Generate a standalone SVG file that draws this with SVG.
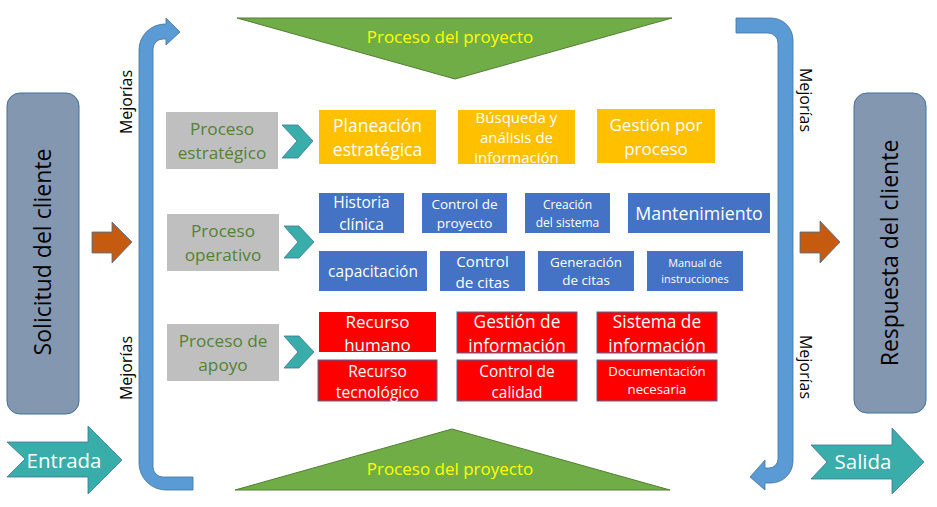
<svg xmlns="http://www.w3.org/2000/svg" width="937" height="507" viewBox="0 0 937 507">
<style>
text{font-family:"Open Sans","Noto Sans","Liberation Sans",sans-serif;text-anchor:middle}
.client{fill:#8497b0;stroke:#41719c;stroke-width:1}
.client-t{font-size:23px;fill:#000}
.mej{font-size:16px;fill:#000}
.blue-arrow{fill:#5b9bd5;stroke:#41719c;stroke-width:0.8}
.orange-arrow{fill:#c55a11;stroke:#41719c;stroke-width:0.8}
.teal{fill:#38ada9;stroke:#41719c;stroke-width:0.8}
.tri{fill:#70ad47;stroke:#507e32;stroke-width:1}
.tri-t{font-size:17px;fill:#ffff00}
.proc{fill:#bfbfbf}
.proc-t{font-size:17.2px;fill:#548235}
.yel{fill:#ffc000}
.blu{fill:#4472c4}
.red{fill:#ff0000}
.redb{fill:#ff0000;stroke:#41719c;stroke-width:1}
.wt{fill:#ffffff}
.io-t{font-size:20.5px;fill:#ffffff}
</style>
<defs>
<clipPath id="clipBusq"><rect x="458" y="110" width="117" height="54"/></clipPath>
</defs>

<g id="solicitud">
<rect class="client" x="7" y="93" width="72" height="321" rx="13"/>
<text class="client-t" transform="translate(43,252) rotate(-90)" dy="0.35em">Solicitud del cliente</text>
</g>
<g id="respuesta">
<rect class="client" x="854" y="93" width="72" height="320" rx="13"/>
<text class="client-t" transform="translate(890,253) rotate(-90)" dy="0.35em">Respuesta del cliente</text>
</g>

<g id="mejoras-izq">
<path class="blue-arrow" d="M193,490 L166,490 A27,27 0 0 1 139,463 L139,50 A26,26 0 0 1 165,24 L166,24 L166,18 L180,32 L166,45 L166,39 L163,39 A10,10 0 0 0 153,49 L153,467 A10,10 0 0 0 163,477 L193,477 Z"/>
<text class="mej" transform="translate(126,102) rotate(-90)" dy="0.35em">Mejorías</text>
<text class="mej" transform="translate(126,368) rotate(-90)" dy="0.35em">Mejorías</text>
</g>
<g id="mejoras-der">
<path class="blue-arrow" d="M736,18 L771,18 A22,22 0 0 1 793,40 L793,461 A22,22 0 0 1 771,483 L765,483 L765,490 L750,477 L765,460 L765,468 L769,468 A9,9 0 0 0 778,459 L778,43 A10,10 0 0 0 768,33 L736,33 Z"/>
<text class="mej" transform="translate(806,100) rotate(90)" dy="0.35em">Mejorías</text>
<text class="mej" transform="translate(806,367) rotate(90)" dy="0.35em">Mejorías</text>
</g>

<g id="entrada">
<path class="teal" d="M7,442 L88,442 L88,426 L122,460 L88,494 L88,477 L7,477 L25,459 Z"/>
<text class="io-t" x="64" y="468">Entrada</text>
</g>
<g id="salida">
<path class="teal" d="M811,445 L892,445 L892,428 L924,462 L892,494 L892,479 L811,479 L827,462 Z"/>
<text class="io-t" x="863" y="469">Salida</text>
</g>

<g id="proyecto-sup">
<path class="tri" d="M237,18 L672,18 L455,79 Z"/>
<text class="tri-t" x="450" y="43">Proceso del proyecto</text>
</g>
<g id="proyecto-inf">
<path class="tri" d="M235,490 L452,429 L670,490 Z"/>
<text class="tri-t" x="450" y="475">Proceso del proyecto</text>
</g>

<g id="proceso-estrategico">
<rect class="proc" x="166" y="112" width="112" height="57"/>
<text class="proc-t" x="222" y="135">Proceso</text>
<text class="proc-t" x="222" y="159">estratégico</text>
</g>
<g id="proceso-operativo">
<rect class="proc" x="167" y="214" width="112" height="57"/>
<text class="proc-t" x="223" y="237">Proceso</text>
<text class="proc-t" x="223" y="261">operativo</text>
</g>
<g id="proceso-apoyo">
<rect class="proc" x="167" y="324" width="112" height="57"/>
<text class="proc-t" x="223" y="347">Proceso de</text>
<text class="proc-t" x="223" y="371">apoyo</text>
</g>

<g id="connectors">
<path class="orange-arrow" d="M92,232 L112,232 L112,222 L132,242 L112,263 L112,253 L92,253 Z"/>
<path class="orange-arrow" d="M800,232 L820,232 L820,221 L840,242 L820,263 L820,253 L800,253 Z"/>
<path class="teal" d="M282,125 L298,125 L313,141 L298,158 L282,158 L297,141 Z"/>
<path class="teal" d="M284,226 L299,226 L314,242 L299,258 L284,258 L298,242 Z"/>
<path class="teal" d="M284,336 L299,336 L314,352 L299,368 L284,368 L298,352 Z"/>
</g>

<g id="planeacion">
<rect class="yel" x="319" y="110" width="117" height="54"/>
<text class="wt" font-size="17.5" x="377.5" y="132">Planeación</text>
<text class="wt" font-size="17.5" x="377.5" y="156">estratégica</text>
</g>
<g id="busqueda">
<rect class="yel" x="458" y="110" width="117" height="54"/>
<g clip-path="url(#clipBusq)">
<text class="wt" font-size="15" x="516.5" y="123">Búsqueda y</text>
<text class="wt" font-size="15" x="516.5" y="143">análisis de</text>
<text class="wt" font-size="15" x="516.5" y="163">información</text>
</g>
</g>
<g id="gestion-proceso">
<rect class="yel" x="597" y="109" width="118" height="54"/>
<text class="wt" font-size="17" x="656" y="131">Gestión por</text>
<text class="wt" font-size="17" x="656" y="155">proceso</text>
</g>

<g id="historia">
<rect class="blu" x="319" y="193" width="85" height="40"/>
<text class="wt" font-size="15.5" x="361.5" y="208">Historia</text>
<text class="wt" font-size="15.5" x="361.5" y="230">clínica</text>
</g>
<g id="control-proyecto">
<rect class="blu" x="422" y="193" width="85" height="40"/>
<text class="wt" font-size="13.5" x="464.5" y="209">Control de</text>
<text class="wt" font-size="13.5" x="464.5" y="228">proyecto</text>
</g>
<g id="creacion">
<rect class="blu" x="525" y="193" width="85" height="40"/>
<text class="wt" font-size="12" x="567.5" y="209">Creación</text>
<text class="wt" font-size="12" x="567.5" y="227">del sistema</text>
</g>
<g id="mantenimiento">
<rect class="blu" x="628" y="193" width="142" height="40"/>
<text class="wt" font-size="17.8" x="699" y="220">Mantenimiento</text>
</g>
<g id="capacitacion">
<rect class="blu" x="319" y="251" width="108" height="40"/>
<text class="wt" font-size="15.5" x="373" y="277">capacitación</text>
</g>
<g id="control-citas">
<rect class="blu" x="440" y="251" width="85" height="40"/>
<text class="wt" font-size="15.2" x="482.5" y="267">Control</text>
<text class="wt" font-size="15.2" x="482.5" y="288">de citas</text>
</g>
<g id="generacion">
<rect class="blu" x="538" y="251" width="96" height="40"/>
<text class="wt" font-size="13.4" x="586" y="267">Generación</text>
<text class="wt" font-size="13.4" x="586" y="285">de citas</text>
</g>
<g id="manual">
<rect class="blu" x="647" y="251" width="96" height="40"/>
<text class="wt" font-size="10.9" x="695" y="267">Manual de</text>
<text class="wt" font-size="10.9" x="695" y="283">instrucciones</text>
</g>

<g id="recurso-humano">
<rect class="red" x="319" y="312" width="117" height="40"/>
<text class="wt" font-size="17" x="377.5" y="328">Recurso</text>
<text class="wt" font-size="17" x="377.5" y="351">humano</text>
</g>
<g id="gestion-informacion">
<rect class="redb" x="457" y="312" width="120" height="41"/>
<text class="wt" font-size="17.3" x="517" y="328">Gestión de</text>
<text class="wt" font-size="17.3" x="517" y="352">información</text>
</g>
<g id="sistema-informacion">
<rect class="redb" x="597" y="312" width="120" height="41"/>
<text class="wt" font-size="17.3" x="657" y="328">Sistema de</text>
<text class="wt" font-size="17.3" x="657" y="352">información</text>
</g>
<g id="recurso-tecnologico">
<rect class="redb" x="318" y="360" width="119" height="41"/>
<text class="wt" font-size="15.6" x="377.5" y="377">Recurso</text>
<text class="wt" font-size="15.6" x="377.5" y="398">tecnológico</text>
</g>
<g id="control-calidad">
<rect class="redb" x="457" y="360" width="120" height="41"/>
<text class="wt" font-size="15.4" x="517" y="377">Control de</text>
<text class="wt" font-size="15.4" x="517" y="398">calidad</text>
</g>
<g id="documentacion">
<rect class="redb" x="597" y="360" width="120" height="41"/>
<text class="wt" font-size="13.2" x="657" y="376">Documentación</text>
<text class="wt" font-size="13.2" x="657" y="394">necesaria</text>
</g>
</svg>
